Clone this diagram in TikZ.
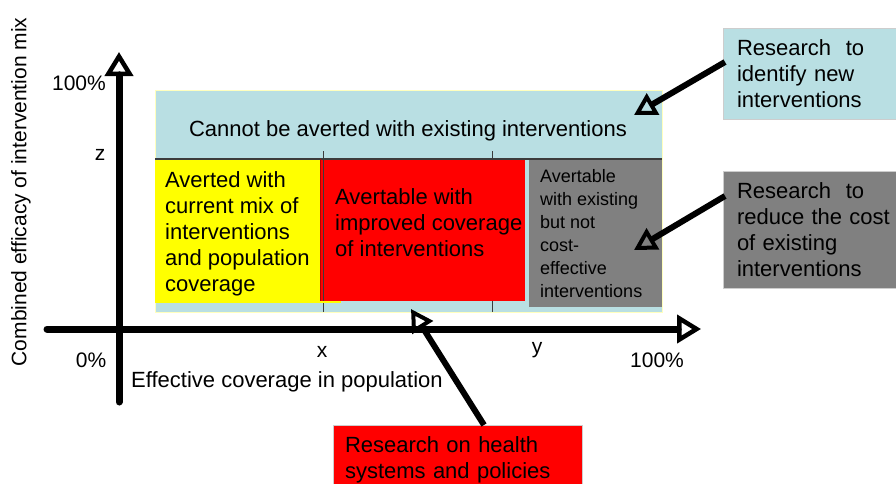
\documentclass[tikz,border=0pt]{standalone}
\usepackage{fontspec}
\setmainfont{Liberation Sans}
\usetikzlibrary{arrows.meta}
\definecolor{lblue}{RGB}{185,223,227}
\definecolor{bedge}{RGB}{255,255,190}
\definecolor{gry}{RGB}{128,128,128}
\definecolor{redc}{RGB}{255,0,0}
\definecolor{ylw}{RGB}{255,255,0}
\definecolor{boxedge}{RGB}{205,205,205}
\definecolor{tickc}{RGB}{60,60,60}
\begin{document}
\begin{tikzpicture}[x=1pt,y=-1pt,
  region/.style={anchor=north west,inner sep=0pt,outer sep=0pt},
  bigtxt/.style={anchor=north west,inner sep=0pt,align=left,font=\fontsize{22}{26}\selectfont},
  smalltxt/.style={anchor=north west,inner sep=0pt,align=left,font=\fontsize{18}{23}\selectfont},
  lab/.style={inner sep=0pt,font=\fontsize{21}{25}\selectfont},
  sidebox/.style={anchor=north west,outer sep=0pt,inner xsep=14pt,inner ysep=0pt,align=left,
    text width=165pt,draw=boxedge,line width=1pt,font=\fontsize{22}{26}\selectfont},
  pointer/.style={line width=6pt,-{Triangle[open,length=22pt,width=24pt,line width=4pt]}},
  axisline/.style={line width=7pt,line cap=round,-{Triangle[open,length=24pt,width=28pt,line width=4.5pt]}},
  tick/.style={line width=1pt,draw=tickc}]
\useasboundingbox (0,0) rectangle (896,483);
\fill[white] (0,0) rectangle (896,483);
% regions
\node[region,fill=lblue,draw=bedge,line width=1pt,minimum width=507pt,minimum height=222pt] (blue) at (155,90) {};
\draw[tick] (323,151) -- (323,312);
\draw[tick] (492,151) -- (492,312);
\node[region,fill=ylw,minimum width=186pt,minimum height=144pt] (yel) at (155,159) {};
\node[region,fill=redc,minimum width=205pt,minimum height=142pt] (red) at (320,159) {};
\node[region,fill=gry,minimum width=133pt,minimum height=147pt] (gray) at (529,160) {};
\draw[line width=1.5pt,draw=tickc] (155,159) -- (662,159);
\draw[tick] (323,159) -- (323,301);
\draw[line width=1pt,draw=red!70!black] (320,159) -- (320,301);
% region texts
\node[lab,font=\fontsize{22}{26}\selectfont] (ttl) at (408,131) {Cannot be averted with existing interventions};
\node[bigtxt] (ytxt) at (165,171) {Averted with\\current mix of\\interventions\\and population\\coverage};
\node[bigtxt] (rtxt) at (335,188) {Avertable with\\improved coverage\\of interventions};
\node[smalltxt] (gtxt) at (540,169) {Avertable\\with existing\\but not\\cost-\\effective\\interventions};
% axes
\coordinate (yb) at (119,402);
\coordinate (yt) at (119,52);
\coordinate (xl) at (47,329);
\coordinate (xr) at (701,329);
\draw[axisline] (yb) -- (yt);
\draw[axisline] (xl) -- (xr);
% axis labels
\node[lab] (l100a) at (79,83) {100\%};
\node[lab] (lz) at (100,155) {z};
\node[lab] (l0) at (91,360) {0\%};
\node[lab] (lx) at (322,352) {x};
\node[lab] (ly) at (537,350) {y};
\node[lab] (l100b) at (657,360) {100\%};
\node[lab,anchor=west,font=\fontsize{22}{26}\selectfont] (xlab) at (131,382) {Effective coverage in population};
\node[lab,rotate=90,font=\fontsize{21}{25}\selectfont] (ylab) at (21,192) {Combined efficacy of intervention mix};
% side boxes
\node[sidebox,fill=lblue,minimum height=91pt] (rb1) at (723,28) {Research\ \ to\\identify new\\interventions};
\node[sidebox,fill=gry,minimum height=117pt] (rb2) at (723,171) {Research\ \ to\\reduce the cost\\of existing\\interventions};
\node[anchor=north west,outer sep=0pt,inner xsep=12pt,inner ysep=12pt,align=left,text width=225pt,
  fill=redc,draw=boxedge,line width=1pt,font=\fontsize{22}{26}\selectfont] (rb3) at (333,425)
  {Research on health\\systems and policies};
% pointers
\coordinate (sA) at (725,62);
\coordinate (tA) at (634,115);
\coordinate (sB) at (725,196);
\coordinate (tB) at (634,250);
\coordinate (sC) at (484,425);
\coordinate (tC) at (411,309);
\draw[pointer] (sA) -- (tA);
\draw[pointer] (sB) -- (tB);
\draw[pointer] (sC) -- (tC);
\end{tikzpicture}
\end{document}
